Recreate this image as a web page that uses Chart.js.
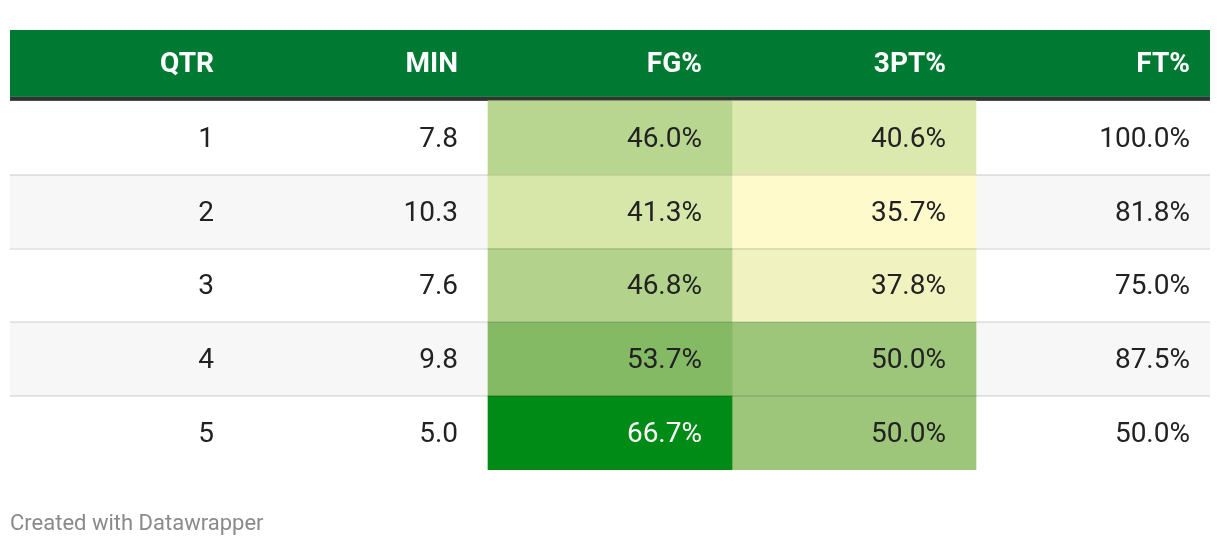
<!DOCTYPE html>
<html>
<head>
<meta charset="utf-8">
<title>Quarter splits</title>
<script src="https://cdn.jsdelivr.net/npm/chart.js@4.4.1/dist/chart.umd.min.js"></script>
<style>
  html, body { margin: 0; padding: 0; background: #fff; }
</style>
</head>
<body>
<canvas id="statsTable" width="1220" height="546"></canvas>
<script>
// Dados da tabela
const columns = ['QTR', 'MIN', 'FG%', '3PT%', 'FT%'];
const quarters = ['1', '2', '3', '4', '5'];
const minutes = [7.8, 10.3, 7.6, 9.8, 5.0];
const fgPct = [46.0, 41.3, 46.8, 53.7, 66.7];
const threePct = [40.6, 35.7, 37.8, 50.0, 50.0];
const ftPct = [100.0, 81.8, 75.0, 87.5, 50.0];
const footerText = 'Created with Datawrapper';

const FONT = 'Roboto, "Noto Sans", sans-serif';
const HEADER_GREEN = '#007a33';
const TABLE_LEFT = 10;
const TABLE_RIGHT = 1210;

// Escala de cor compartilhada pelas colunas FG% e 3PT%
const heatValues = fgPct.concat(threePct);
const heatMin = Math.min(...heatValues);
const heatMax = Math.max(...heatValues);
const heatStops = [
  [0.00, [255, 250, 204]],
  [0.16, [219, 233, 174]],
  [0.34, [183, 213, 143]],
  [0.46, [157, 198, 122]],
  [0.58, [132, 186, 100]],
  [1.00, [0, 138, 22]]
];

function heatColor(v) {
  const t = (v - heatMin) / (heatMax - heatMin);
  for (let i = 1; i < heatStops.length; i++) {
    const [t1, c1] = heatStops[i];
    const [t0, c0] = heatStops[i - 1];
    if (t <= t1) {
      const f = (t - t0) / (t1 - t0);
      const c = c0.map((a, k) => Math.round(a + (c1[k] - a) * f));
      return `rgb(${c[0]}, ${c[1]}, ${c[2]})`;
    }
  }
  return 'rgb(0, 138, 22)';
}

function heatDataset(col, values) {
  return {
    label: col,
    data: values.map((v, i) => ({ x: col, y: [i, i + 1] })),
    backgroundColor: values.map(heatColor),
    borderWidth: 0,
    grouped: false,
    barPercentage: 1,
    categoryPercentage: 1
  };
}

// Textos de cada coluna
const pct = v => v.toFixed(1) + '%';
const cellText = [
  quarters,
  minutes.map(v => v.toFixed(1)),
  fgPct.map(pct),
  threePct.map(pct),
  ftPct.map(pct)
];
const cellValue = [null, null, fgPct, threePct, null];

// Plugin que desenha cabeçalho, listras, linhas e textos
const tablePlugin = {
  id: 'tablePlugin',
  beforeDatasetsDraw(chart) {
    const { ctx, chartArea, scales } = chart;
    const y = scales.y;
    const w = TABLE_RIGHT - TABLE_LEFT;
    ctx.save();
    // Cabeçalho
    ctx.fillStyle = HEADER_GREEN;
    ctx.fillRect(TABLE_LEFT, chartArea.top, w, y.getPixelForValue(0) - 4 - chartArea.top);
    ctx.fillStyle = '#333333';
    ctx.fillRect(TABLE_LEFT, y.getPixelForValue(0) - 4, w, 4);
    // Linhas alternadas
    ctx.fillStyle = '#f7f7f7';
    quarters.forEach((q, i) => {
      if (i % 2 === 1) {
        const top = y.getPixelForValue(i);
        ctx.fillRect(TABLE_LEFT, top, w, y.getPixelForValue(i + 1) - top);
      }
    });
    ctx.restore();
  },
  afterDatasetsDraw(chart) {
    const { ctx, chartArea, scales } = chart;
    const x = scales.x;
    const y = scales.y;
    const colWidth = chartArea.width / columns.length;
    const pad = 30;
    ctx.save();

    // Separadores
    ctx.fillStyle = 'rgba(0, 0, 0, 0.09)';
    for (let i = 1; i < quarters.length; i++) {
      ctx.fillRect(TABLE_LEFT, Math.round(y.getPixelForValue(i)) - 1, TABLE_RIGHT - TABLE_LEFT, 2);
    }

    // Cabeçalho
    ctx.textAlign = 'right';
    ctx.textBaseline = 'middle';
    ctx.fillStyle = '#ffffff';
    ctx.font = 'bold 28px ' + FONT;
    const headerMid = (chartArea.top + y.getPixelForValue(0) - 4) / 2;
    columns.forEach((c, ci) => {
      ctx.fillText(c, x.getPixelForValue(ci) + colWidth / 2 - pad, headerMid + 2);
    });

    // Células
    ctx.font = '28px ' + FONT;
    columns.forEach((c, ci) => {
      cellText[ci].forEach((t, ri) => {
        const vals = cellValue[ci];
        ctx.fillStyle = vals && vals[ri] === heatMax ? '#ffffff' : '#222222';
        const cy = (y.getPixelForValue(ri) + y.getPixelForValue(ri + 1)) / 2;
        ctx.fillText(t, x.getPixelForValue(ci) + colWidth / 2 - pad, cy + 2);
      });
    });

    // Rodapé
    ctx.textAlign = 'left';
    ctx.textBaseline = 'alphabetic';
    ctx.fillStyle = '#8a8a8a';
    ctx.font = '22px ' + FONT;
    ctx.fillText(footerText, TABLE_LEFT, 530);
    ctx.restore();
  }
};

new Chart(document.getElementById('statsTable'), {
  type: 'bar',
  data: {
    labels: columns,
    datasets: [
      heatDataset('FG%', fgPct),
      heatDataset('3PT%', threePct)
    ]
  },
  options: {
    responsive: false,
    animation: false,
    layout: {
      padding: { left: -2, right: -2, top: 30, bottom: 76 }
    },
    scales: {
      x: {
        type: 'category',
        offset: true,
        display: false,
        grid: { display: false }
      },
      y: {
        type: 'linear',
        reverse: true,
        min: -0.96,
        max: quarters.length,
        display: false,
        grid: { display: false }
      }
    },
    plugins: {
      legend: { display: false },
      tooltip: { enabled: false }
    }
  },
  plugins: [tablePlugin]
});
</script>
</body>
</html>
